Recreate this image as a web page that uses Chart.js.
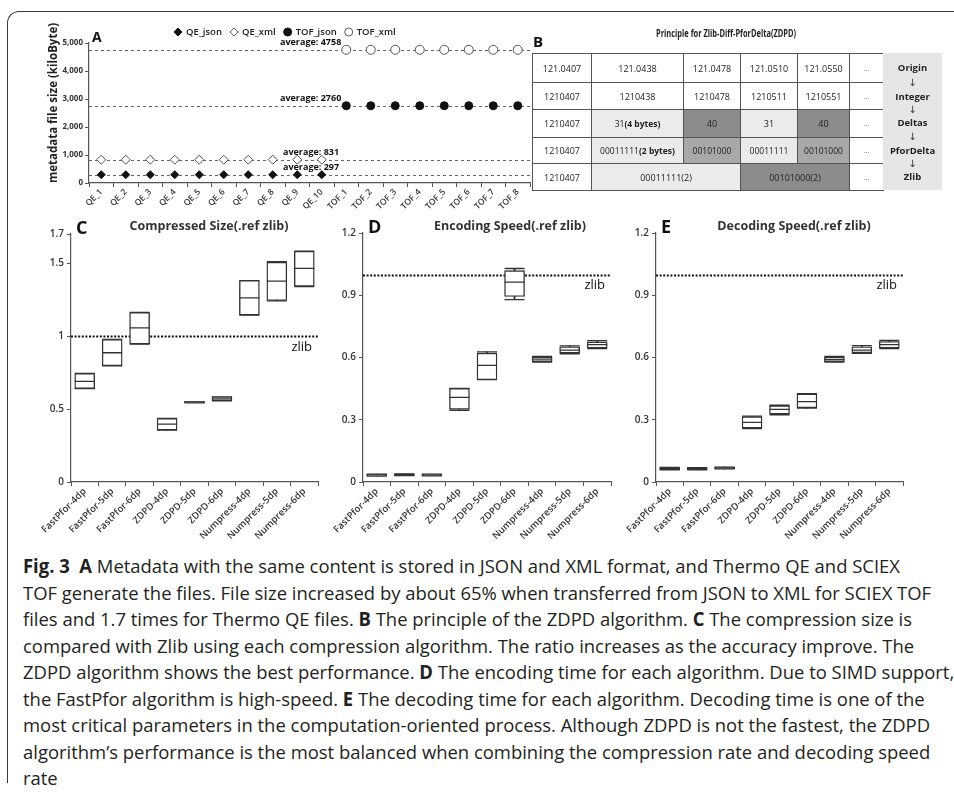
<!DOCTYPE html>
<html>
<head>
<meta charset="utf-8">
<title>Fig. 3</title>
<script src="https://cdn.jsdelivr.net/npm/chart.js@4.4.1/dist/chart.umd.min.js"></script>
<style>
  html, body { margin: 0; padding: 0; background: #fff; }
  body { width: 954px; height: 795px; position: relative; overflow: hidden;
         font-family: 'Open Sans', 'Noto Sans', sans-serif; color: #222; }
  .frame { position: absolute; left: 7px; top: 11px; width: 1000px; height: 772px;
           border-left: 1.5px solid #3a3a3a; border-top: 1.5px solid #3a3a3a;
           border-top-left-radius: 12px; box-sizing: border-box; }
  canvas { position: absolute; }
  #panelB { position: absolute; left: 0; top: 0; }
  .bLetter { position: absolute; left: 533px; top: 34px; font-weight: 700; font-size: 15px; line-height: 15px; color: #111; }
  .bTitle { position: absolute; left: 656px; top: 27px; font-weight: 700; font-size: 10px; line-height: 12px;
            white-space: nowrap; transform-origin: 0 0; color: #222; }
  #tblB { position: absolute; left: 532px; top: 53px; border-collapse: collapse; table-layout: fixed;
          width: 351px; font-size: 9px; color: #222; }
  #tblB td { border: 1px solid #555; text-align: center; vertical-align: middle; padding: 0;
             white-space: nowrap; overflow: hidden; }
  #tblB td.lt { background: #ebebeb; }
  #tblB td.md { background: #a8a8a8; }
  #tblB td.dk { background: #8c8c8c; }
  #tblB td.dots { font-size: 7px; color: #666; }
  #tblB td.sm { font-size: 8.5px; }
  .steps { position: absolute; left: 883px; top: 53px; width: 59px; height: 137px; background: #e6e6e6; }
  .steps div { position: absolute; left: 0; width: 59px; text-align: center; transform: translateY(-50%);
               font-size: 9.5px; font-weight: 700; line-height: 12px; color: #222; }
  .steps div.arr { font-family: 'DejaVu Sans', sans-serif; font-weight: 400; font-size: 10px; color: #333; }
  #caption { position: absolute; left: 23px; top: 553px; transform-origin: 0 0;
             font-size: 19px; line-height: 26.5px; color: #231f20; }
  #caption .ln { white-space: nowrap; }
  #caption b { font-weight: 700; }
</style>
</head>
<body>
<div class="frame"></div>

<canvas id="chartA" width="545" height="215" style="left:0;top:0;"></canvas>
<canvas id="chartC" width="310" height="345" style="left:20px;top:205px;"></canvas>
<canvas id="chartD" width="295" height="345" style="left:330px;top:205px;"></canvas>
<canvas id="chartE" width="300" height="345" style="left:620px;top:205px;"></canvas>

<div id="panelB">
  <div class="bLetter">B</div>
  <div class="bTitle" id="bTitle">Principle for Zlib-Diff-PforDelta(ZDPD)</div>
  <table id="tblB">
    <colgroup>
      <col style="width:59px"><col style="width:92px"><col style="width:57px">
      <col style="width:57px"><col style="width:52px"><col style="width:34px">
    </colgroup>
    <tr style="height:29px"><td>121.0407</td><td>121.0438</td><td>121.0478</td><td>121.0510</td><td>121.0550</td><td class="dots">...</td></tr>
    <tr style="height:27px"><td>1210407</td><td>1210438</td><td>1210478</td><td>1210511</td><td>1210551</td><td class="dots">...</td></tr>
    <tr style="height:28px"><td>1210407</td><td class="lt sm">31<b>(4 bytes)</b></td><td class="dk">40</td><td class="lt">31</td><td class="dk">40</td><td class="dots">...</td></tr>
    <tr style="height:26px"><td>1210407</td><td class="lt sm">00011111<b>(2 bytes)</b></td><td class="md sm">00101000</td><td class="lt sm">00011111</td><td class="md sm">00101000</td><td class="dots">...</td></tr>
    <tr style="height:27px"><td>1210407</td><td class="lt" colspan="2">00011111(2)</td><td class="dk" colspan="2">00101000(2)</td><td class="dots">...</td></tr>
  </table>
  <div class="steps">
    <div style="top:15px">Origin</div>
    <div class="arr" style="top:30px">↓</div>
    <div style="top:44px">Integer</div>
    <div class="arr" style="top:57px">↓</div>
    <div style="top:70px">Deltas</div>
    <div class="arr" style="top:84px">↓</div>
    <div style="top:98px">PforDelta</div>
    <div class="arr" style="top:111px">↓</div>
    <div style="top:124px">Zlib</div>
  </div>
</div>

<div id="caption">
  <div class="ln"><span><b>Fig. 3</b>&nbsp; <b>A</b> Metadata with the same content is stored in JSON and XML format, and Thermo QE and SCIEX</span></div>
  <div class="ln"><span>TOF generate the files. File size increased by about 65% when transferred from JSON to XML for SCIEX TOF</span></div>
  <div class="ln"><span>files and 1.7 times for Thermo QE files. <b>B</b> The principle of the ZDPD algorithm. <b>C</b> The compression size is</span></div>
  <div class="ln"><span>compared with Zlib using each compression algorithm. The ratio increases as the accuracy improve. The</span></div>
  <div class="ln"><span>ZDPD algorithm shows the best performance. <b>D</b> The encoding time for each algorithm. Due to SIMD support,</span></div>
  <div class="ln"><span>the FastPfor algorithm is high-speed. <b>E</b> The decoding time for each algorithm. Decoding time is one of the</span></div>
  <div class="ln"><span>most critical parameters in the computation-oriented process. Although ZDPD is not the fastest, the ZDPD</span></div>
  <div class="ln"><span>algorithm’s performance is the most balanced when combining the compression rate and decoding speed</span></div>
  <div class="ln"><span>rate</span></div>
</div>

<script>
// ---- Panel A: metadata file sizes (kiloByte) per file ----
const sampleLabels = ['QE_1','QE_2','QE_3','QE_4','QE_5','QE_6','QE_7','QE_8','QE_9','QE_10',
                      'TOF_1','TOF_2','TOF_3','TOF_4','TOF_5','TOF_6','TOF_7','TOF_8'];
const qeJson  = [297, 297, 297, 297, 297, 297, 297, 297, 297, 297, null, null, null, null, null, null, null, null];
const qeXml   = [831, 831, 831, 831, 831, 831, 831, 831, 831, 831, null, null, null, null, null, null, null, null];
const tofJson = [null, null, null, null, null, null, null, null, null, null, 2760, 2760, 2760, 2760, 2760, 2760, 2760, 2760];
const tofXml  = [null, null, null, null, null, null, null, null, null, null, 4758, 4758, 4758, 4758, 4758, 4758, 4758, 4758];
const sizeTicks = [0, 1000, 2000, 3000, 4000, 5000];
const averages = [4758, 2760, 831, 297];

// ---- Panels C-E: ratios relative to zlib, per algorithm ----
const algorithms = ['FastPfor-4dp','FastPfor-5dp','FastPfor-6dp','ZDPD-4dp','ZDPD-5dp','ZDPD-6dp',
                    'Numpress-4dp','Numpress-5dp','Numpress-6dp'];
const zlibRef = 1;

const sizeMin    = [0.640, 0.797, 0.945, 0.356, 0.543, 0.557, 1.144, 1.241, 1.340];
const sizeQ1     = [0.640, 0.797, 0.945, 0.356, 0.543, 0.557, 1.144, 1.244, 1.342];
const sizeMedian = [0.690, 0.886, 1.057, 0.397, 0.547, 0.570, 1.262, 1.377, 1.464];
const sizeQ3     = [0.744, 0.977, 1.162, 0.436, 0.551, 0.584, 1.381, 1.507, 1.582];
const sizeMax    = [0.744, 0.977, 1.162, 0.436, 0.551, 0.584, 1.381, 1.510, 1.582];
const sizeTicksC = [0, 0.5, 1, 1.5, 1.7];

const encMin    = [0.029, 0.031, 0.030, 0.345, 0.493, 0.879, 0.578, 0.618, 0.643];
const encQ1     = [0.029, 0.031, 0.030, 0.350, 0.493, 0.894, 0.580, 0.621, 0.646];
const encMedian = [0.034, 0.035, 0.034, 0.408, 0.562, 0.963, 0.592, 0.636, 0.662];
const encQ3     = [0.038, 0.039, 0.038, 0.451, 0.621, 1.019, 0.603, 0.652, 0.675];
const encMax    = [0.038, 0.039, 0.038, 0.451, 0.627, 1.029, 0.605, 0.656, 0.681];

const decMin    = [0.059, 0.059, 0.063, 0.257, 0.324, 0.356, 0.578, 0.620, 0.643];
const decQ1     = [0.059, 0.059, 0.063, 0.260, 0.327, 0.358, 0.580, 0.623, 0.646];
const decMedian = [0.065, 0.064, 0.068, 0.287, 0.350, 0.387, 0.591, 0.636, 0.662];
const decQ3     = [0.070, 0.069, 0.072, 0.315, 0.368, 0.424, 0.603, 0.652, 0.677];
const decMax    = [0.070, 0.069, 0.072, 0.317, 0.370, 0.426, 0.605, 0.657, 0.682];
const speedTicks = [0, 0.3, 0.6, 0.9, 1.2];

Chart.defaults.font.family = "'Open Sans', 'Noto Sans', sans-serif";
Chart.defaults.color = '#333';

const AXIS = '#555';
const FONT = "'Open Sans', 'Noto Sans', sans-serif";

// Draws panel letters, titles, reference lines and the legend using the chart's own scales.
function decor(cfg) {
  return {
    id: 'decor',
    beforeDatasetsDraw(chart) {
      const { ctx, chartArea: a } = chart;
      const y = chart.scales.y;
      (cfg.refLines || []).forEach(r => {
        const py = Math.round(y.getPixelForValue(r.value)) + 0.5;
        ctx.save();
        ctx.strokeStyle = r.color;
        ctx.lineWidth = r.width;
        ctx.setLineDash(r.dash);
        ctx.beginPath();
        ctx.moveTo(a.left, py);
        ctx.lineTo(a.right, py);
        ctx.stroke();
        ctx.restore();
      });
    },
    afterDatasetsDraw(chart) {
      const { ctx, chartArea: a } = chart;
      const y = chart.scales.y;
      ctx.save();
      (cfg.refLines || []).forEach(r => {
        if (!r.text) return;
        const py = y.getPixelForValue(r.value);
        ctx.font = r.font;
        ctx.fillStyle = '#111';
        ctx.textBaseline = 'middle';
        ctx.textAlign = r.align;
        const x = r.align === 'right' ? a.right - r.dx : a.left + r.dx;
        ctx.fillText(r.text, x, py + r.dy);
      });
      if (cfg.letter) {
        ctx.font = `700 ${cfg.letter.size}px ${FONT}`;
        ctx.fillStyle = '#111';
        ctx.textAlign = 'left';
        ctx.textBaseline = 'alphabetic';
        ctx.fillText(cfg.letter.text, a.left + cfg.letter.dx, a.top + cfg.letter.dy);
      }
      if (cfg.title) {
        ctx.font = `700 ${cfg.title.size}px ${FONT}`;
        ctx.fillStyle = '#333';
        ctx.textAlign = 'center';
        ctx.textBaseline = 'middle';
        ctx.fillText(cfg.title.text, cfg.title.x, cfg.title.y);
      }
      if (cfg.yTitle) {
        ctx.save();
        ctx.translate(cfg.yTitle.x, cfg.yTitle.y);
        ctx.rotate(-Math.PI / 2);
        ctx.font = `700 ${cfg.yTitle.size}px ${FONT}`;
        ctx.fillStyle = '#222';
        ctx.textAlign = 'center';
        ctx.textBaseline = 'middle';
        ctx.fillText(cfg.yTitle.text, 0, 0);
        ctx.restore();
      }
      if (cfg.legend) {
        let x = cfg.legend.x;
        const ly = cfg.legend.y;
        ctx.font = `600 ${cfg.legend.size}px ${FONT}`;
        ctx.textAlign = 'left';
        ctx.textBaseline = 'middle';
        chart.data.datasets.forEach(ds => {
          const r = cfg.legend.radius;
          ctx.fillStyle = ds.backgroundColor;
          ctx.strokeStyle = ds.borderColor;
          ctx.lineWidth = 1;
          Chart.helpers.drawPoint(ctx, { pointStyle: ds.pointStyle, radius: r, borderWidth: 1, rotation: 0 }, x + r, ly);
          ctx.fillStyle = '#222';
          const tx = x + 2 * r + 4;
          ctx.fillText(ds.label, tx, ly + 0.5);
          x = tx + ctx.measureText(ds.label).width + 8;
        });
      }
      ctx.restore();
    }
  };
}

// ---- Panel A ----
new Chart(document.getElementById('chartA'), {
  type: 'line',
  data: {
    labels: sampleLabels,
    datasets: [
      { label: 'QE_json', data: qeJson, showLine: false, pointStyle: 'rectRot', pointRadius: 4,
        backgroundColor: '#111', borderColor: '#111', pointBorderWidth: 1 },
      { label: 'QE_xml', data: qeXml, showLine: false, pointStyle: 'rectRot', pointRadius: 4.5,
        backgroundColor: '#fff', borderColor: '#555', pointBorderWidth: 1 },
      { label: 'TOF_json', data: tofJson, showLine: false, pointStyle: 'circle', pointRadius: 4,
        backgroundColor: '#111', borderColor: '#111', pointBorderWidth: 1 },
      { label: 'TOF_xml', data: tofXml, showLine: false, pointStyle: 'circle', pointRadius: 4.5,
        backgroundColor: '#fff', borderColor: '#555', pointBorderWidth: 1 }
    ]
  },
  options: {
    responsive: false, animation: false, devicePixelRatio: 1,
    layout: { padding: { top: 43, right: 15, left: 0, bottom: 0 } },
    plugins: { legend: { display: false }, tooltip: { enabled: false } },
    scales: {
      x: {
        offset: true,
        grid: { drawOnChartArea: false, offset: true, tickLength: 4, color: AXIS },
        border: { color: AXIS, width: 1.2 },
        ticks: { autoSkip: false, minRotation: 45, maxRotation: 45, padding: 0,
                 font: { size: 8.5, weight: '600' }, color: '#333' },
        afterFit(s) { s.height = 32; }
      },
      y: {
        min: 0, max: 5000,
        afterBuildTicks(s) { s.ticks = sizeTicks.map(v => ({ value: v })); },
        grid: { drawOnChartArea: false, tickLength: 4, color: AXIS },
        border: { color: AXIS, width: 1.2 },
        ticks: { padding: 2, font: { size: 8, weight: '700' }, color: '#333' },
        afterFit(s) { s.width = 89; }
      }
    }
  },
  plugins: [decor({
    letter: { text: 'A', size: 14, dx: 3, dy: -1 },
    yTitle: { text: 'metadata file size (kiloByte)', size: 11.5, x: 54, y: 103 },
    legend: { x: 174, y: 32, size: 9.5, radius: 4 },
    refLines: averages.map((v, i) => ({
      value: v, color: '#666', width: 1, dash: [3, 3],
      text: 'average: ' + v, font: `700 9px ${FONT}`, align: 'left',
      dx: i < 2 ? 191 : 194, dy: -7.5
    }))
  })]
});

// ---- Panels C, D, E: box plots ----
function boxChart(id, s) {
  return new Chart(document.getElementById(id), {
    data: {
      labels: algorithms,
      datasets: [
        { type: 'bar', data: s.min.map((v, i) => [v, s.max[i]]), backgroundColor: '#333',
          barThickness: 1.2, grouped: false, order: 4 },
        { type: 'line', data: s.max, showLine: false, pointStyle: 'line', pointRadius: 10,
          pointBorderWidth: 1.3, borderColor: '#333', order: 3 },
        { type: 'line', data: s.min, showLine: false, pointStyle: 'line', pointRadius: 10,
          pointBorderWidth: 1.3, borderColor: '#333', order: 3 },
        { type: 'bar', data: s.q1.map((v, i) => [v, s.q3[i]]), backgroundColor: '#fff',
          borderColor: '#333', borderWidth: 1.4, borderSkipped: false, barThickness: 20,
          grouped: false, order: 2 },
        { type: 'line', data: s.median, showLine: false, pointStyle: 'line', pointRadius: 10,
          pointBorderWidth: 1.3, borderColor: '#333', order: 1 }
      ]
    },
    options: {
      responsive: false, animation: false, devicePixelRatio: 1,
      layout: { padding: { top: s.padTop, right: s.padRight, left: 0, bottom: 0 } },
      plugins: { legend: { display: false }, tooltip: { enabled: false } },
      scales: {
        x: {
          grid: { drawOnChartArea: false, offset: true, tickLength: 4, color: AXIS },
          border: { color: AXIS, width: 1.2 },
          ticks: { autoSkip: false, minRotation: 45, maxRotation: 45, padding: 0,
                   font: { size: 9.5, weight: '600' }, color: '#333' },
          afterFit(sc) { sc.height = 68; }
        },
        y: {
          min: s.ticks[0], max: s.ticks[s.ticks.length - 1],
          afterBuildTicks(sc) { sc.ticks = s.ticks.map(v => ({ value: v })); },
          grid: { drawOnChartArea: false, tickLength: 4, color: AXIS },
          border: { color: AXIS, width: 1.2 },
          ticks: { padding: 3, font: { size: 10, weight: '600' }, color: '#333',
                   callback: v => String(v) },
          afterFit(sc) { sc.width = s.yWidth; }
        }
      }
    },
    plugins: [decor({
      letter: { text: s.letter, size: 18, dx: 5, dy: 0 },
      title: { text: s.title, size: 12.5, x: s.titleX, y: 21 },
      refLines: [{ value: zlibRef, color: '#111', width: 2, dash: [2, 1.6],
                   text: 'zlib', font: `400 13px ${FONT}`, align: 'right', dx: 6, dy: 11 }]
    })]
  });
}

boxChart('chartC', {
  min: sizeMin, q1: sizeQ1, median: sizeMedian, q3: sizeQ3, max: sizeMax, ticks: sizeTicksC,
  letter: 'C', title: 'Compressed Size(.ref zlib)', titleX: 189,
  padTop: 29, padRight: 12, yWidth: 51
});
boxChart('chartD', {
  min: encMin, q1: encQ1, median: encMedian, q3: encQ3, max: encMax, ticks: speedTicks,
  letter: 'D', title: 'Encoding Speed(.ref zlib)', titleX: 180,
  padTop: 28, padRight: 14, yWidth: 33
});
boxChart('chartE', {
  min: decMin, q1: decQ1, median: decMedian, q3: decQ3, max: decMax, ticks: speedTicks,
  letter: 'E', title: 'Decoding Speed(.ref zlib)', titleX: 174,
  padTop: 28, padRight: 17, yWidth: 36
});

// Horizontal fitting of text blocks to their measured widths.
(function () {
  const cap = document.getElementById('caption');
  const first = cap.querySelector('.ln span');
  const w = first.getBoundingClientRect().width;
  if (w > 0) cap.style.transform = `scaleX(${877 / w})`;
  const bt = document.getElementById('bTitle');
  const bw = bt.getBoundingClientRect().width;
  if (bw > 0) bt.style.transform = `scaleX(${140 / bw})`;
})();
</script>
</body>
</html>
